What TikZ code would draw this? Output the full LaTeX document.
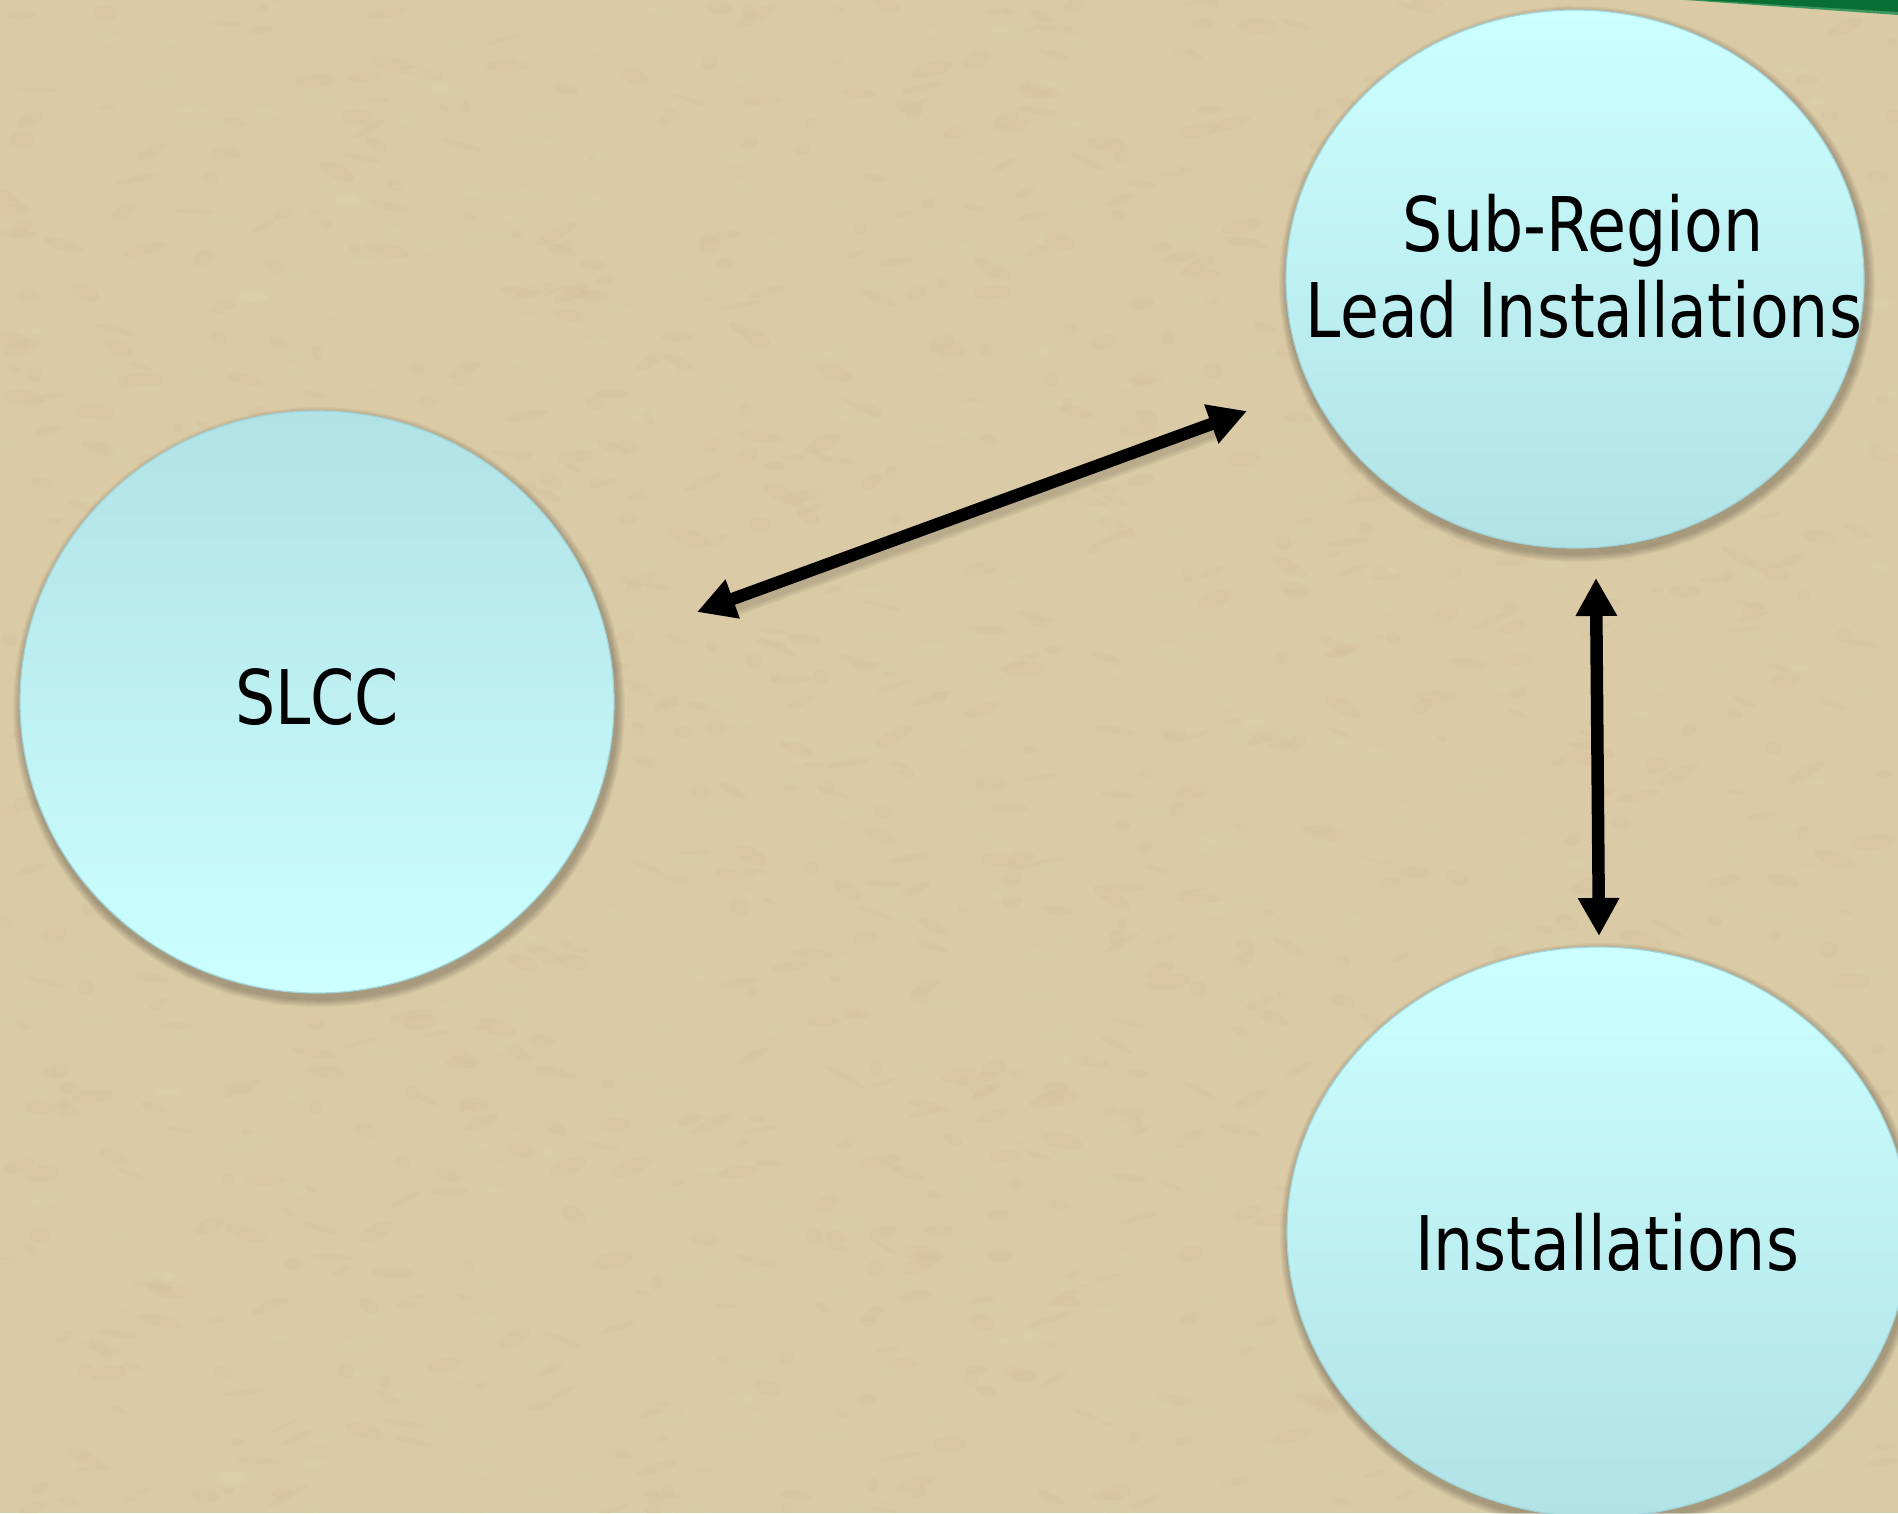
\documentclass[tikz,border=0pt]{standalone}
\usepackage{fontspec}
\newfontfamily\lblfont[FakeStretch=0.84]{DejaVu Sans}
\usetikzlibrary{shapes.geometric,arrows.meta,calc}
\definecolor{bgtan}{RGB}{218,202,165}
\definecolor{bgdark}{RGB}{196,178,140}
\definecolor{bglight}{RGB}{234,222,192}
\definecolor{cydark}{RGB}{176,226,230}
\definecolor{cylight}{RGB}{204,255,255}
\definecolor{cyedge}{RGB}{160,212,218}
\definecolor{grdark}{RGB}{8,110,52}
\definecolor{grlight}{RGB}{60,150,95}
\tikzset{
  bubble/.style={ellipse, draw=cyedge, line width=1.2pt, inner sep=0pt, shading=axis},
  lbl/.style={font=\lblfont\fontsize{75.4}{86}\selectfont, text=black, inner sep=0pt, anchor=base},
  link/.style={draw=black, line width=12.5pt, {Triangle[length=38pt,width=39pt]}-{Triangle[length=38pt,width=39pt]}},
  linkshadow/.style={draw=black, opacity=0.05, line cap=round}
}
\begin{document}
\begin{tikzpicture}[x=1pt,y=-1pt]
\useasboundingbox (0,0) rectangle (1898,1513);
\fill[bgtan] (0,0) rectangle (1898,1513);
% paper texture
\pgfmathsetseed{7}
\foreach \k in {1,...,1100}{
  \pgfmathsetmacro{\px}{rnd*1898}
  \pgfmathsetmacro{\py}{rnd*1513}
  \pgfmathsetmacro{\pa}{5+rnd*18}
  \pgfmathsetmacro{\pb}{2+rnd*6}
  \pgfmathsetmacro{\pr}{rnd*60-30}
  \fill[bgdark, opacity=0.09, rotate around={\pr:(\px,\py)}] (\px,\py) ellipse ({\pa} and {\pb});
}
\foreach \k in {1,...,700}{
  \pgfmathsetmacro{\px}{rnd*1898}
  \pgfmathsetmacro{\py}{rnd*1513}
  \pgfmathsetmacro{\pa}{4+rnd*14}
  \pgfmathsetmacro{\pb}{2+rnd*5}
  \fill[bglight, opacity=0.12] (\px,\py) ellipse ({\pa} and {\pb});
}
% green stripe at top right
\fill[grlight] (1685,0) -- (1898,0) -- (1898,15) -- cycle;
\fill[grdark] (1700,0) -- (1898,0) -- (1898,12) -- cycle;
% soft shadows
\foreach \cx/\cy/\rx/\ry in {317/702/297/291, 1575/279/289/269, 1598/1232/311/285}{
  \foreach \i in {1,...,8}{
    \fill[black, opacity=0.03] (\cx+2,\cy+5) ellipse ({\rx+10-\i} and {\ry+10-\i});
  }
}
% bubbles
\node[bubble, minimum width=594pt, minimum height=582pt, top color=cydark, bottom color=cylight] (slcc) at (317,702) {};
\node[bubble, minimum width=578pt, minimum height=538pt, top color=cylight, bottom color=cydark] (sub) at (1575,279) {};
\node[bubble, minimum width=622pt, minimum height=570pt, top color=cylight, bottom color=cydark] (inst) at (1598,1232) {};
% labels
\node[lbl] (slcct) at (317,724) {SLCC};
\node[lbl] (subt1) at (1583,251) {Sub-Region};
\node[lbl] (subt2) at (1584,337) {Lead Installations};
\node[lbl] (instt) at (1607,1270) {Installations};
% arrow end points
\coordinate (d1) at (697,612);
\coordinate (d2) at (1247,411);
\coordinate (v1) at (1596,578);
\coordinate (v2) at (1599,936);
\foreach \w in {14,18,22}{
  \draw[linkshadow, line width=\w pt] ($(d1)!0.06!(d2)+(2,6)$) -- ($(d1)!0.94!(d2)+(2,6)$);
}
\draw[link] (d1) -- (d2);
\draw[link] (v1) -- (v2);
\end{tikzpicture}
\end{document}
